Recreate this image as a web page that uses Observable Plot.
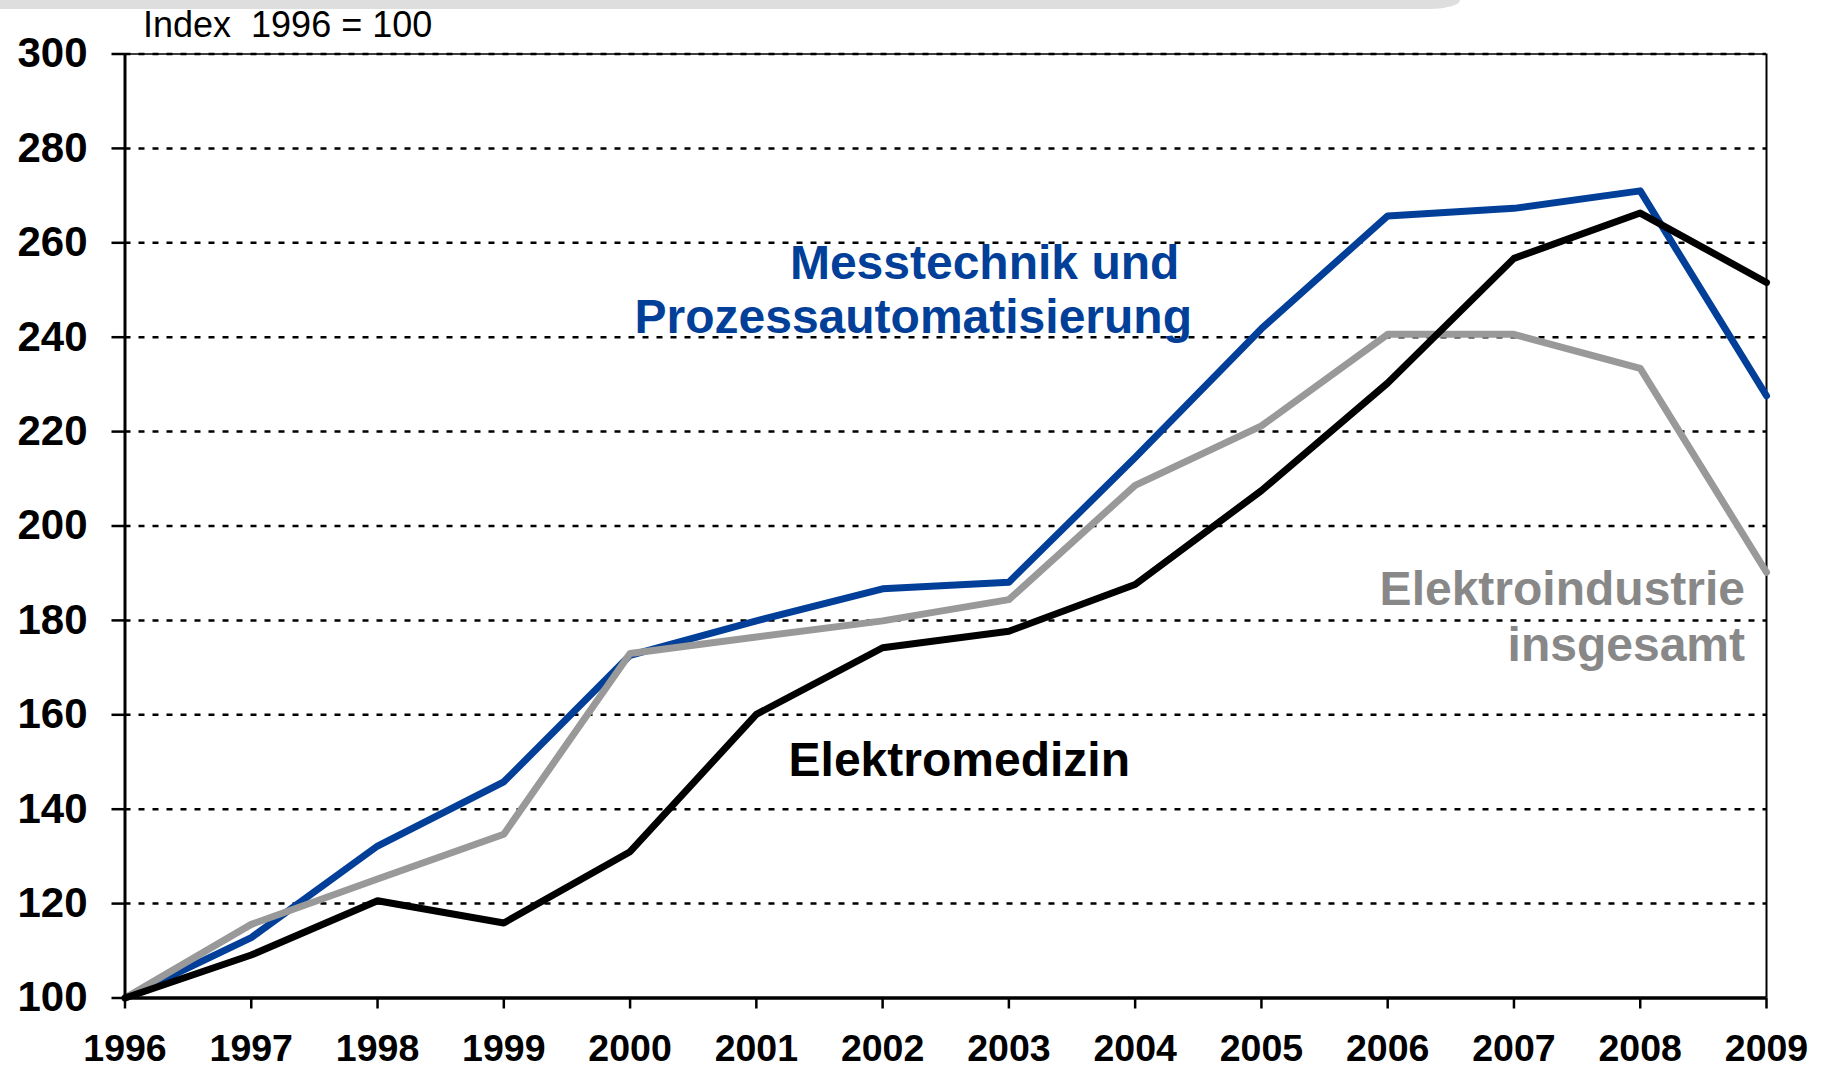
<!DOCTYPE html>
<html>
<head>
<meta charset="utf-8">
<script src="https://cdn.jsdelivr.net/npm/d3@7"></script>
<script src="https://cdn.jsdelivr.net/npm/@observablehq/plot@0.6"></script>
<style>
  html, body { margin: 0; padding: 0; background: #fff; }
  #header { position: relative; width: 1825px; height: 40px; }
  #bar { position: absolute; left: 0; top: 0; width: 1460px; height: 9px; background: #dedede; border-bottom-right-radius: 30px 9px; }
  #index { position: absolute; left: 143px; top: 7px; font: 36px/36px "Liberation Sans", Arial, sans-serif; white-space: pre; color: #000; }
</style>
</head>
<body>
<div id="header"><div id="bar"></div><div id="index">Index  1996 = 100</div></div>
<div id="chart"></div>
<script>
const years = [1996, 1997, 1998, 1999, 2000, 2001, 2002, 2003, 2004, 2005, 2006, 2007, 2008, 2009];
const messtechnik = [100, 112.8, 132.2, 145.8, 172.6, 179.9, 186.7, 188.1, 214.5, 241.8, 265.7, 267.3, 271.0, 227.6];
const elektromedizin = [100, 109.1, 120.6, 115.9, 131.0, 160.1, 174.2, 177.7, 187.6, 207.5, 230.3, 256.7, 266.3, 251.6];
const gesamt = [100, 115.6, 125.2, 134.7, 173.0, 176.5, 179.9, 184.4, 208.6, 221.2, 240.6, 240.6, 233.4, 190.2];
const yTicks = [100, 120, 140, 160, 180, 200, 220, 240, 260, 280, 300];
const gridValues = [120, 140, 160, 180, 200, 220, 240, 260, 280, 300];

const BLUE = "#023f99", GRAY = "#999999", GRAYTEXT = "#888888";

const chart = Plot.plot({
  width: 1825,
  height: 1028,
  marginLeft: 124.5,
  marginRight: 59,
  marginTop: 13.5,
  marginBottom: 70.5,
  x: {domain: [1996, 2009], axis: null},
  y: {domain: [100, 300], axis: null},
  style: {fontFamily: "'Liberation Sans', Arial, sans-serif", fontWeight: "bold", background: "#fff", overflow: "visible"},
  marks: [
    Plot.ruleY(gridValues, {stroke: "#000", strokeWidth: 2.5, strokeDasharray: "6,8"}),
    Plot.ruleY([300], {stroke: "#000", strokeWidth: 1.5}),
    Plot.ruleX([2009], {stroke: "#000", strokeWidth: 2}),
    Plot.line(messtechnik, {x: (d, i) => years[i], y: d => d, stroke: BLUE, strokeWidth: 7}),
    Plot.line(gesamt, {x: (d, i) => years[i], y: d => d, stroke: GRAY, strokeWidth: 7}),
    Plot.line(elektromedizin, {x: (d, i) => years[i], y: d => d, stroke: "#000", strokeWidth: 7}),
    Plot.ruleX([1996], {stroke: "#000", strokeWidth: 3}),
    Plot.ruleY([100], {stroke: "#000", strokeWidth: 3.5}),
    Plot.axisY({ticks: yTicks, tickFormat: d => String(d), tickSize: 13, tickPadding: 24.5, fontSize: 42, strokeWidth: 2.5, label: null}),
    Plot.axisX({ticks: years, tickFormat: d => String(d), tickSize: 11, tickPadding: 25, fontSize: 37.5, strokeWidth: 2.5, label: null}),
    Plot.text(["Messtechnik und"], {x: 2004.35, y: 252.4, text: d => d, textAnchor: "end", lineAnchor: "bottom", fontSize: 48, fill: BLUE}),
    Plot.text(["Prozessautomatisierung"], {x: 2004.45, y: 240.8, text: d => d, textAnchor: "end", lineAnchor: "bottom", fontSize: 48, fill: BLUE}),
    Plot.text(["Elektromedizin"], {x: 2001.255, y: 147.1, text: d => d, textAnchor: "start", lineAnchor: "bottom", fontSize: 48, fill: "#000"}),
    Plot.text(["Elektroindustrie"], {x: 2008.83, y: 183.2, text: d => d, textAnchor: "end", lineAnchor: "bottom", fontSize: 48, fill: GRAYTEXT}),
    Plot.text(["insgesamt"], {x: 2008.83, y: 171.5, text: d => d, textAnchor: "end", lineAnchor: "bottom", fontSize: 48, fill: GRAYTEXT})
  ]
});
document.getElementById("chart").appendChild(chart);
</script>
</body>
</html>
